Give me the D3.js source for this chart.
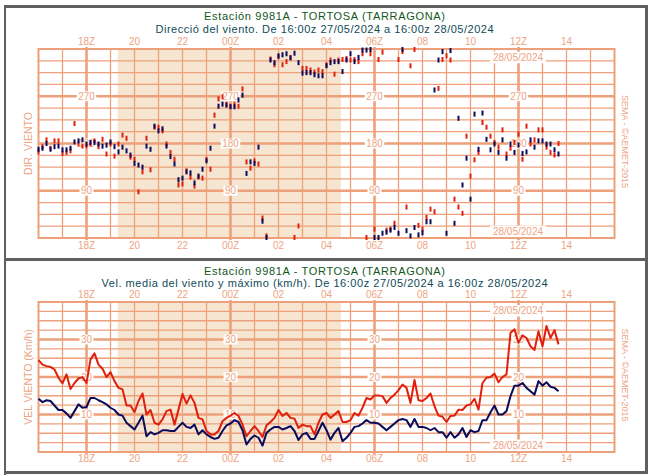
<!DOCTYPE html>
<html><head><meta charset="utf-8">
<script src="https://cdn.jsdelivr.net/npm/d3@7"></script>
<style>
html,body{margin:0;padding:0;background:#fff;}
svg{display:block;font-family:"Liberation Sans",Arial,sans-serif;}
</style></head><body>
<svg id="c" width="652" height="475"></svg>
<script>
// ---------- DATA ----------
const stationTitle = "Estación 9981A - TORTOSA (TARRAGONA)";
const dirSubtitle = "Direcció del viento. De 16:00z 27/05/2024 a 16:00z 28/05/2024";
const spdSubtitle = "Vel. media del viento y máximo (km/h). De 16:00z 27/05/2024 a 16:00z 28/05/2024";
const dateLabel = "28/05/2024";
const credit = "SEMA - ©AEMET-2015";
// hours since 16:00z 27/05 ; labels every 2 h
const hourTickPos = [2,4,6,8,10,12,14,16,18,20,22];
const hourLabels = ["18Z","20","22","00Z","02","04","06Z","08","10","12Z","14"];
const mainHours = [2,8,14,20];          // 18Z, 00Z, 06Z, 12Z
const nightSpan = [3.3, 12.6];          // shaded night period (hours since start)
const stepMinutes = 10;
const dirTicks = [90,180,270];
const spdTicks = [10,20,30];

// wind direction (deg) - gust (red) and mean (navy)
const dirGust = [164,174,187,171,185,185,161,163,166,218,
 179,175,175,179,185,174,188,160,179,156,
 179,196,190,154,150,88,126,190,130,211,
 211,204,179,163,150,101,103,128,116,99,
 116,114,150,131,234,265,269,255,251,255,
 251,284,145,133,147,141,38,4,341,330,
 345,330,336,344,1,23,323,323,320,316,
 320,317,330,339,312,339,340,342,339,340,
 336,351,1,351,17,340,354,15,17,28,
 340,355,59,328,359,24,17,39,55,50,
 285,340,347,339,74,59,47,194,118,149,
 163,220,211,194,182,173,206,160,171,182,
 198,150,213,179,187,206,206,173,163,158,
 180];
const dirMean = [169,171,180,169,174,175,168,168,171,183,
 185,187,179,182,182,179,175,177,183,174,
 164,173,166,158,142,139,135,175,169,213,
 204,208,175,155,141,111,114,126,124,105,
 118,131,147,171,213,251,255,253,250,250,
 263,272,123,145,142,173,32,1,339,334,
 347,349,351,343,352,334,314,315,315,311,
 309,309,328,334,336,336,317,339,351,336,
 344,358,358,359,1,1,9,11,15,20,
 9,359,14,4,20,6,10,31,31,282,
 339,355,9,357,28,228,101,152,74,236,
 169,238,188,168,179,163,187,152,179,163,
 177,161,164,187,173,185,185,179,179,168,
 160];

// wind speed (km/h) - max gust (red) and mean (navy)
const spdGust = [24.5,23.3,22.9,22.7,22.0,19.8,18.3,20.7,16.8,18.4,
 19.6,20.0,18.4,24.7,26.3,23.3,22.2,20.0,21.3,18.9,
 17.1,16.7,12.4,12.4,10.6,13.6,15.6,10.0,11.2,7.8,
 7.3,8.7,10.9,11.3,7.3,11.3,15.5,12.9,15.1,13.1,
 9.1,8.7,5.6,4.7,4.7,5.6,8.2,9.1,9.7,10.4,
 9.6,7.3,4.2,5.6,6.9,5.6,4.0,7.1,8.0,9.1,
 11.2,9.6,10.4,9.1,8.9,6.4,7.3,6.9,6.9,4.7,
 7.8,10.0,10.4,9.1,10.0,10.9,8.0,8.0,8.5,10.4,
 9.7,11.8,14.4,14.0,15.1,15.1,14.9,13.1,14.4,15.3,
 16.5,18.0,17.1,13.1,19.2,13.8,13.6,14.4,15.6,12.2,
 9.7,9.4,8.0,9.6,9.7,11.3,11.2,12.4,12.7,14.2,
 11.3,18.4,19.8,20.0,20.9,18.6,20.0,20.7,31.8,32.7,
 29.1,31.1,30.4,28.2,27.2,32.2,28.2,33.6,30.4,32.5,
 28.7];
const spdMean = [14.2,13.3,13.8,13.6,12.4,11.2,11.2,10.3,9.1,10.9,
 12.7,11.8,12.0,14.4,14.4,13.8,13.3,12.7,11.8,11.2,
 10.0,9.7,7.8,6.9,6.0,7.8,9.7,4.2,5.3,4.7,
 5.1,5.8,5.8,5.6,5.6,6.7,7.8,6.7,6.4,7.3,
 4.7,5.8,4.7,4.0,3.5,3.8,5.6,7.1,7.6,8.5,
 8.0,5.8,2.0,3.5,4.4,3.8,1.7,5.1,6.0,6.7,
 6.7,6.0,6.4,6.9,5.6,3.2,4.7,5.1,3.5,3.5,
 5.6,7.8,5.8,3.3,5.1,6.4,2.9,3.8,5.1,6.7,
 6.9,7.6,8.5,7.8,7.8,7.6,6.7,5.8,6.7,7.6,
 8.5,8.8,8.5,6.7,8.8,6.7,6.7,6.4,5.8,6.4,
 5.3,5.3,3.8,5.3,3.8,4.7,6.4,4.0,5.8,5.3,
 5.6,8.5,8.5,10.6,12.4,10.0,10.0,10.9,14.9,17.7,
 17.7,18.4,17.1,16.2,15.3,18.9,17.7,18.6,17.4,17.1,
 16.2];

// ---------- DRAW ----------
const svg = d3.select("#c");
const GRID = "#eda07a", TXT = "#eea482", SHADE = "#f5e5d1";
const RED = "#e0200c", NAVY = "#0b0b5c", FRAME = "#5f5f5f";
const GREEN = "#13571a", TEAL = "#0f4a58";

const x = d3.scaleLinear().domain([0, 24]).range([38.5, 614.5]);
const tOf = i => i * stepMinutes / 60;

const panels = [
  {top: 49, bottom: 238, domain: [0, 360], step: 22.5, ticks: dirTicks,
   sub: dirSubtitle, subW: 338, yLabel: "DIR. VIENTO",
   titleY: 20.2, subY: 33, hourTopY: 45, hourBotY: 249.3,
   dateTopY: 57.5, dateBotY: 231.3, creditY: 141.5},
  {top: 302, bottom: 452, domain: [0, 40], step: 2.5, ticks: spdTicks,
   sub: spdSubtitle, subW: 446, yLabel: "VEL VIENTO (Km/h)",
   titleY: 274.5, subY: 287, hourTopY: 297.7, hourBotY: 461.7,
   dateTopY: 310.8, dateBotY: 445.3, creditY: 375}
];

function boxedLabel(g, cx, cy, txt, size, padX, h) {
  const grp = g.append("g");
  const r = grp.append("rect").attr("fill", "#fff");
  const t = grp.append("text").attr("x", cx).attr("y", cy + size * 0.36)
    .attr("text-anchor", "middle").attr("font-size", size).attr("fill", TXT).text(txt);
  const w = t.node().getComputedTextLength();
  r.attr("x", cx - w / 2 - padX).attr("y", cy - h / 2).attr("width", w + 2 * padX).attr("height", h);
}

panels.forEach((p, pi) => {
  const g = svg.append("g");
  const y = d3.scaleLinear().domain(p.domain).range([p.bottom, p.top]);
  p.y = y;
  // night shading
  g.append("rect").attr("x", x(nightSpan[0])).attr("y", p.top)
    .attr("width", x(nightSpan[1]) - x(nightSpan[0])).attr("height", p.bottom - p.top)
    .attr("fill", SHADE);
  // horizontal grid
  d3.range(p.domain[0] + p.step, p.domain[1], p.step).forEach(v => {
    const thick = p.ticks.includes(v);
    g.append("line").attr("x1", x(0)).attr("x2", x(24)).attr("y1", y(v)).attr("y2", y(v))
      .attr("stroke", GRID).attr("stroke-width", thick ? 2.6 : 1.3);
  });
  // vertical grid (hourly)
  d3.range(1, 24).forEach(h => {
    const thick = mainHours.includes(h);
    g.append("line").attr("x1", x(h)).attr("x2", x(h))
      .attr("y1", p.top - (thick ? 2 : 0)).attr("y2", p.bottom + (thick ? 2 : 0))
      .attr("stroke", GRID).attr("stroke-width", thick ? 2.6 : 1.3);
  });
  // frame
  g.append("rect").attr("x", x(0)).attr("y", p.top).attr("width", x(24) - x(0))
    .attr("height", p.bottom - p.top).attr("fill", "none").attr("stroke", GRID).attr("stroke-width", 2);
  // hour labels
  [p.hourTopY, p.hourBotY].forEach(yy => {
    g.selectAll(null).data(hourTickPos).enter().append("text")
      .attr("x", d => x(d)).attr("y", yy).attr("text-anchor", "middle")
      .attr("font-size", 10).attr("fill", TXT).text((d, i) => hourLabels[i]);
  });
  // value labels
  mainHours.forEach(h => p.ticks.forEach(v => boxedLabel(g, x(h), y(v), String(v), 10, 1.4, 10)));
  // date labels
  boxedLabel(g, x(20) - 0.5, p.dateTopY, dateLabel, 10, 3, 11.5);
  boxedLabel(g, x(20) - 0.5, p.dateBotY, dateLabel, 10, 3, 11.5);
  // titles
  g.append("text").attr("x", 324.5).attr("y", p.titleY).attr("text-anchor", "middle")
    .attr("font-size", 11).attr("textLength", 241).attr("lengthAdjust", "spacing")
    .attr("fill", GREEN).text(stationTitle);
  g.append("text").attr("x", 324.5).attr("y", p.subY).attr("text-anchor", "middle")
    .attr("font-size", 11).attr("textLength", p.subW).attr("lengthAdjust", "spacing")
    .attr("fill", TEAL).text(p.sub);
  // side labels
  const cy = (p.top + p.bottom) / 2;
  g.append("text").attr("transform", `translate(31.5,${cy}) rotate(-90)`)
    .attr("text-anchor", "middle").attr("font-size", 10.5).attr("fill", TXT).text(p.yLabel);
  g.append("text").attr("transform", `translate(621.5,${p.creditY}) rotate(90)`)
    .attr("text-anchor", "middle").attr("font-size", 9).attr("fill", TXT).text(credit);
});

// direction marks
const pd = panels[0];
const gd = svg.append("g");
[[dirGust, RED], [dirMean, NAVY]].forEach(([arr, col]) => {
  gd.selectAll(null).data(arr).enter().append("rect")
    .attr("x", (d, i) => x(tOf(i)) - 1).attr("y", d => pd.y(d) - 2.5)
    .attr("width", 2).attr("height", 5).attr("fill", col);
});

// speed lines
const ps = panels[1];
const line = d3.line().x((d, i) => x(tOf(i))).y(d => ps.y(d));
[[spdGust, RED], [spdMean, NAVY]].forEach(([arr, col]) => {
  svg.append("path").attr("d", line(arr)).attr("fill", "none")
    .attr("stroke", col).attr("stroke-width", 2).attr("stroke-linejoin", "round");
});

// panel borders
const fr = svg.append("g").attr("fill", FRAME);
fr.append("rect").attr("x", 4).attr("y", 5).attr("width", 644).attr("height", 3);
fr.append("rect").attr("x", 4).attr("y", 5).attr("width", 2).attr("height", 470);
fr.append("rect").attr("x", 645).attr("y", 5).attr("width", 3).attr("height", 469);
fr.append("rect").attr("x", 4).attr("y", 258).attr("width", 644).attr("height", 3);
fr.append("rect").attr("x", 4).attr("y", 471).attr("width", 644).attr("height", 3);
</script></body></html>
